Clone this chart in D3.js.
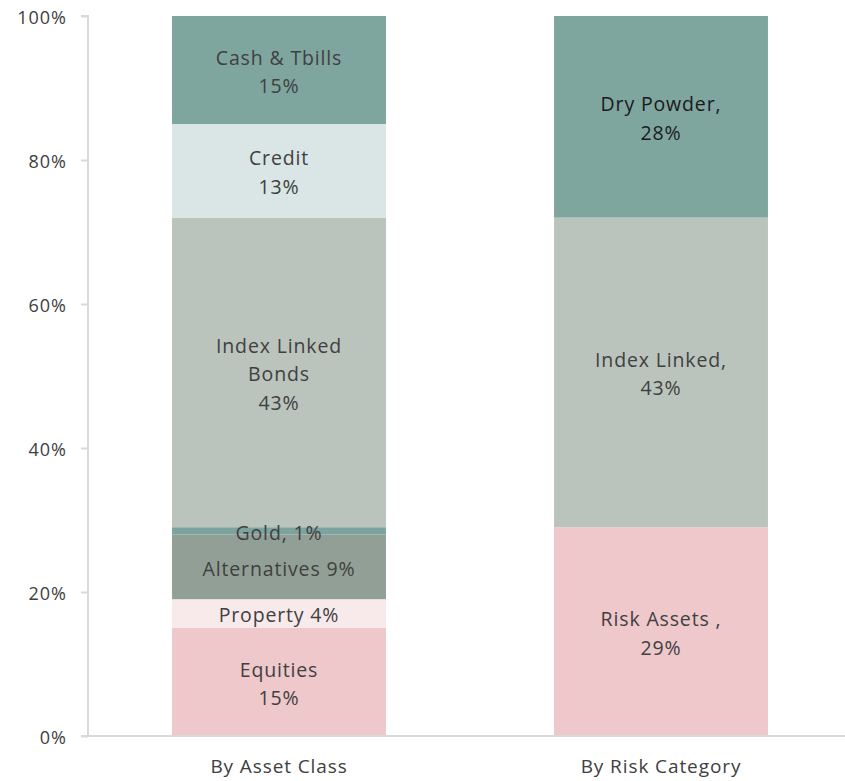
<!DOCTYPE html>
<html><head><meta charset="utf-8">
<script src="https://cdn.jsdelivr.net/npm/d3@7"></script>
<style>
html,body{margin:0;padding:0;background:#fff;}
svg{display:block;}
svg text{font-family:"Open Sans","Noto Sans",sans-serif;}
</style>
</head><body>
<svg id="chart" width="845" height="781"></svg>
<script>
const categories = ["By Asset Class", "By Risk Category"];
const assetSegments = ["Equities", "Property", "Alternatives", "Gold", "Index Linked Bonds", "Credit", "Cash & Tbills"];
const assetValues = [15, 4, 9, 1, 43, 13, 15];
const assetLabels = [["Equities","15%"],["Property 4%"],["Alternatives 9%"],["Gold, 1%"],["Index Linked","Bonds","43%"],["Credit","13%"],["Cash & Tbills","15%"]];
const assetColors = ["#eec8cb","#f8e9ea","#929f96","#7da39e","#bac4bc","#d9e6e5","#7fa59f"];
const riskSegments = ["Risk Assets", "Index Linked", "Dry Powder"];
const riskValues = [29, 43, 28];
const riskLabels = [["Risk Assets ,","29%"],["Index Linked,","43%"],["Dry Powder,","28%"]];
const riskColors = ["#eec8cb","#bac4bc","#7fa59f"];
const riskTextColors = ["#404040","#404040","#1a1a1a"];
const yTicks = [0, 20, 40, 60, 80, 100];
const yTickLabels = ["0%","20%","40%","60%","80%","100%"];

const svg = d3.select("#chart");
const x = d3.scaleBand().domain(categories).range([88, 852]).paddingInner(0.44).paddingOuter(0.22);
const y = d3.scaleLinear().domain([0, 100]).range([736, 16]);

// axes
const yAxis = d3.axisLeft(y).tickValues(yTicks).tickFormat((d,i)=>yTickLabels[i]).tickSize(7).tickPadding(14);
const gy = svg.append("g").attr("transform","translate(88,0)").call(yAxis);
gy.attr("font-family", null);
gy.select(".domain").attr("stroke","#d9d9d9").attr("stroke-width",2).attr("d","M-7,16H0V736");
gy.selectAll(".tick line").attr("stroke","#d9d9d9").attr("stroke-width",2);
gy.selectAll(".tick text").attr("fill","#404040").style("font-size","18px").style("letter-spacing","1px").attr("dy","0.42em");

const xAxis = d3.axisBottom(x).tickSize(0).tickPadding(24);
const gx = svg.append("g").attr("transform","translate(0,736)").call(xAxis);
gx.attr("font-family", null);
gx.select(".domain").attr("stroke","#d9d9d9").attr("stroke-width",2).attr("d","M81,0H845");
gx.selectAll(".tick text").attr("fill","#404040").style("font-size","19px").style("letter-spacing","0.9px");

function drawStack(cat, values, colors, labels, textColors) {
  let cum = 0;
  const segs = values.map((v,i)=>{ const s={y0:cum,y1:cum+v,i}; cum+=v; return s; });
  const g = svg.append("g");
  g.selectAll("rect").data(segs).join("rect")
    .attr("x", x(cat)).attr("width", x.bandwidth())
    .attr("y", d=>y(d.y1)).attr("height", d=>y(d.y0)-y(d.y1))
    .attr("fill", d=>colors[d.i]);
  const lh = 28.5;
  segs.forEach(d=>{
    const lines = labels[d.i];
    let cy = (y(d.y0)+y(d.y1))/2;
    if (cat===categories[0] && d.i===3) cy = 531;   // Gold label overlaps
    if (cat===categories[0] && d.i===2) cy = 567;
    const t = g.append("text").attr("text-anchor","middle")
      .attr("fill", textColors ? textColors[d.i] : "#404040")
      .style("font-size","19.5px").style("letter-spacing","0.85px");
    lines.forEach((ln,k)=>{
      t.append("tspan").attr("x", x(cat)+x.bandwidth()/2)
        .attr("y", cy + (k-(lines.length-1)/2)*lh).attr("dy","0.45em").text(ln);
    });
  });
}
drawStack(categories[0], assetValues, assetColors, assetLabels, null);
drawStack(categories[1], riskValues, riskColors, riskLabels, riskTextColors);
// redraw x-axis line above bars
svg.append("line").attr("x1",81).attr("x2",845).attr("y1",736).attr("y2",736).attr("stroke","#d9d9d9").attr("stroke-width",2);
</script>
</body></html>
